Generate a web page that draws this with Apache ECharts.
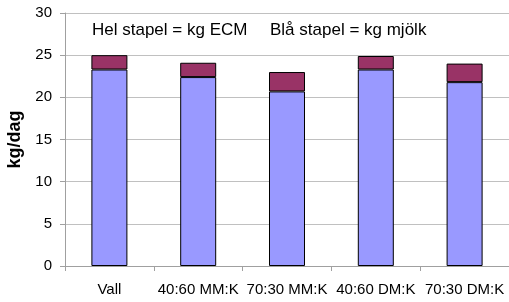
<!DOCTYPE html>
<html>
<head>
<meta charset="utf-8">
<script src="https://cdn.jsdelivr.net/npm/echarts@6/dist/echarts.min.js"></script>
<style>
  html, body { margin: 0; padding: 0; background: #fff; }
  #chart { width: 509px; height: 302px; }
</style>
</head>
<body>
<div id="chart"></div>
<script>
var categories = ['Vall', '40:60 MM:K', '70:30 MM:K', '40:60 DM:K', '70:30 DM:K'];
// blå stapel = kg mjölk
var milk = [23.3, 22.4, 20.7, 23.3, 21.8];
// hel stapel = kg ECM, toppen är skillnaden
var ecmTotal = [25.0, 24.1, 23.0, 24.9, 24.0];
var yTicks = [0, 5, 10, 15, 20, 25, 30];

var ecmExtra = ecmTotal.map(function (v, i) {
    return +(v - milk[i]).toFixed(2);
});

var font = 'Liberation Sans, Arial, sans-serif';

document.addEventListener("DOMContentLoaded", () => {
    var chart = echarts.init(document.querySelector("#chart"));
    chart.setOption({
        animation: false,
        textStyle: { fontFamily: font },
        grid: { left: 65, right: 0, top: 13, bottom: 36, outerBoundsMode: 'none', containLabel: false },
        graphic: [{
            type: 'text', left: 92, top: 22,
            style: { text: 'Hel stapel = kg ECM', fontSize: 17, fill: '#000', fontFamily: font }
        }, {
            type: 'text', left: 270, top: 22,
            style: { text: 'Blå stapel = kg mjölk', fontSize: 17, fill: '#000', fontFamily: font }
        }],
        xAxis: {
            type: 'category',
            data: categories,
            axisLine: { lineStyle: { color: '#a0a0a0' } },
            axisTick: { show: true, length: 5, lineStyle: { color: '#a0a0a0' } },
            axisLabel: { color: '#000', fontSize: 15, margin: 16, interval: 0 }
        },
        yAxis: {
            type: 'value',
            min: yTicks[0],
            max: yTicks[yTicks.length - 1],
            interval: 5,
            name: 'kg/dag',
            nameLocation: 'middle',
            nameGap: 40,
            nameTextStyle: { fontSize: 18, fontWeight: 'bold', color: '#000' },
            axisLine: { show: true, lineStyle: { color: '#a0a0a0' } },
            axisTick: { show: true, length: 5, lineStyle: { color: '#a0a0a0' } },
            axisLabel: { color: '#000', fontSize: 15, margin: 13 },
            splitLine: { lineStyle: { color: '#c0c0c0' } }
        },
        series: [{
            name: 'kg mjölk',
            type: 'bar',
            stack: 'ecm',
            data: milk,
            barWidth: 36,
            itemStyle: { color: '#9999ff', borderColor: '#000', borderWidth: 1 }
        }, {
            name: 'ECM',
            type: 'bar',
            stack: 'ecm',
            data: ecmExtra,
            barWidth: 36,
            itemStyle: { color: '#993366', borderColor: '#000', borderWidth: 1 }
        }]
    });
});
</script>
</body>
</html>
